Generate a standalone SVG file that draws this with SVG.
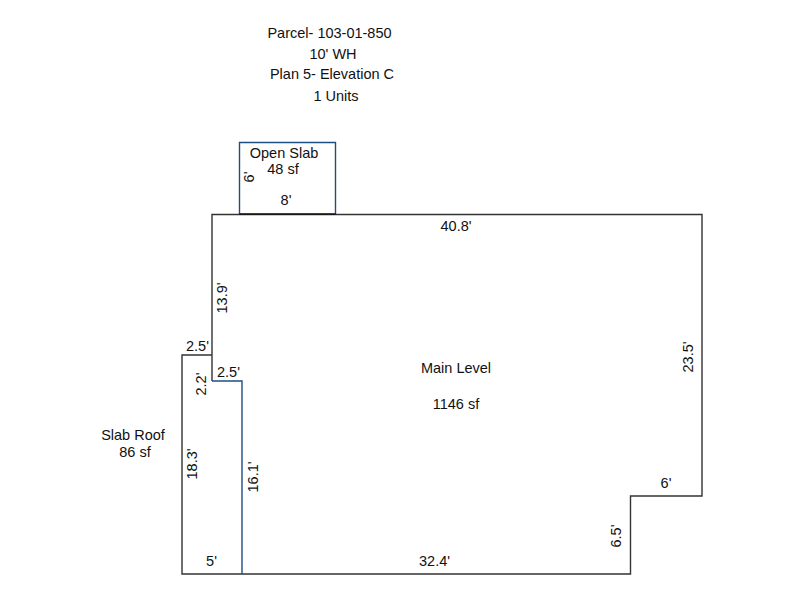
<svg xmlns="http://www.w3.org/2000/svg" width="800" height="600" viewBox="0 0 800 600">
<style>
text{font-family:"Liberation Sans",Arial,sans-serif;font-size:14.5px;fill:#111;text-anchor:middle}
.k{fill:none;stroke:#333;stroke-width:1.4}
.b{fill:none;stroke:#1f4e80;stroke-width:1.4}
</style>
<rect width="800" height="600" fill="#fff"/>
<g id="title">
<text x="329.500" y="38">Parcel- 103-01-850</text>
<text x="333" y="59">10' WH</text>
<text x="332" y="79">Plan 5- Elevation C</text>
<text x="336" y="101">1 Units</text>
</g>
<g id="connectors">
<path class="b" d="M239.500 214V142.500H335.500V214"/>
<path class="k" d="M212 381V214.500H702V496H630.500V574H182V355H212V381"/>
<path class="b" d="M212 381H242V574"/>
<path d="M239.500 214H335.500" fill="none" stroke="#111" stroke-width="1.400"/>
</g>
<g id="open-slab">
<text x="284" y="158">Open Slab</text>
<text x="283" y="174">48 sf</text>
<text x="286" y="205">8'</text>
<text transform="translate(254 177) rotate(-90)">6'</text>
</g>
<g id="main-level">
<text x="456" y="373">Main Level</text>
<text x="456" y="409">1146 sf</text>
<text x="456" y="231">40.8'</text>
<text transform="translate(227 298) rotate(-90)">13.9'</text>
<text transform="translate(693 357) rotate(-90)">23.5'</text>
<text x="666" y="488">6'</text>
<text transform="translate(621 536) rotate(-90)">6.5'</text>
<text x="434.500" y="566">32.4'</text>
<text transform="translate(258 477) rotate(-90)">16.1'</text>
<text x="228.500" y="377">2.5'</text>
</g>
<g id="slab-roof">
<text x="133" y="440">Slab Roof</text>
<text x="135" y="457">86 sf</text>
<text x="197.500" y="351">2.5'</text>
<text transform="translate(206 384) rotate(-90)">2.2'</text>
<text transform="translate(197 464) rotate(-90)">18.3'</text>
<text x="211.500" y="566">5'</text>
</g>
</svg>
